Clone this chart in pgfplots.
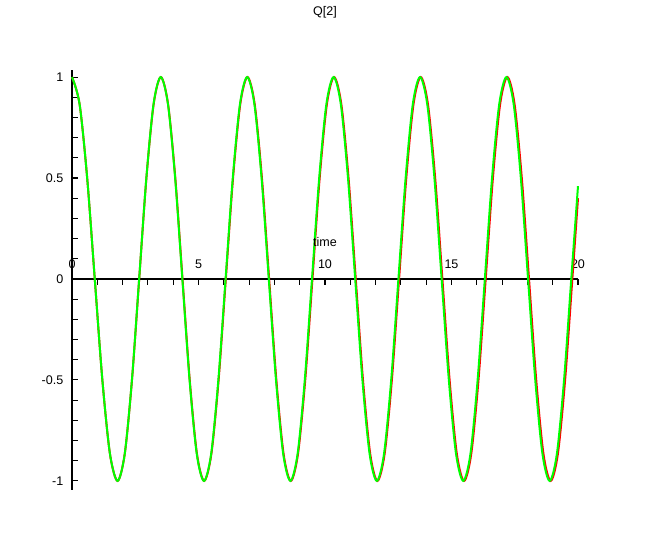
\documentclass[border=0pt]{standalone}
\usepackage{fontspec}
\setmainfont{Liberation Sans}
\usepackage{pgfplots}
\pgfplotsset{compat=1.18}
\usetikzlibrary{calc}

\begin{document}
\begin{tikzpicture}
\begin{axis}[
  name=ax,
  scale only axis,
  width=379.5pt, height=315pt,
  xmin=0, xmax=20, ymin=-1.045, ymax=1.035,
  axis lines=middle,
  axis line style={-, line width=1pt},
  clip=false,
  font=\fontsize{9.4}{11}\selectfont,
  xtick={0,5,10,15,20},
  xticklabels={0,5,10,15,20},
  minor xtick={1,2,3,4,6,7,8,9,11,12,13,14,16,17,18,19},
  ytick={-1,-0.5,0,0.5,1},
  yticklabels={-1,-0.5,0,0.5,1},
  minor ytick={-0.9,-0.8,-0.7,-0.6,-0.4,-0.3,-0.2,-0.1,0.1,0.2,0.3,0.4,0.6,0.7,0.8,0.9},
  hide obscured x ticks=false,
  hide obscured y ticks=false,
  tick align=inside,
  major tick length=4.5pt, minor tick length=4.5pt,
  every tick/.style={black, line width=0.8pt},
  every minor x tick/.append style={yshift=-4.5pt},
  every major x tick/.append style={yshift=-4.5pt},
  xticklabel style={anchor=south, yshift=4pt},
  yticklabel style={anchor=east, xshift=-3pt},
]
\addplot[red, line width=1.5pt, smooth] coordinates {
(0,1) (0.3,0.866) (0.6,0.5) (0.9,0) (1.2,-0.5) (1.5,-0.866) (1.8,-1)
(2.085,-0.866) (2.371,-0.5) (2.656,0) (2.941,0.5) (3.227,0.866) (3.512,1)
(3.797,0.866) (4.083,0.5) (4.368,0) (4.653,-0.5) (4.939,-0.866) (5.224,-1)
(5.509,-0.866) (5.795,-0.5) (6.080,0) (6.365,0.5) (6.651,0.866) (6.936,1)
(7.221,0.866) (7.507,0.5) (7.792,0) (8.077,-0.5) (8.363,-0.866) (8.648,-1)
(8.933,-0.866) (9.219,-0.5) (9.504,0) (9.789,0.5) (10.075,0.866) (10.360,1)
(10.645,0.866) (10.931,0.5) (11.216,0) (11.501,-0.5) (11.787,-0.866) (12.072,-1)
(12.357,-0.866) (12.643,-0.5) (12.928,0) (13.213,0.5) (13.499,0.866) (13.784,1)
(14.069,0.866) (14.355,0.5) (14.640,0) (14.925,-0.5) (15.211,-0.866) (15.496,-1)
(15.781,-0.866) (16.067,-0.5) (16.352,0) (16.637,0.5) (16.923,0.866) (17.208,1)
(17.493,0.866) (17.779,0.5) (18.064,0) (18.349,-0.5) (18.635,-0.866) (18.920,-1)
(19.205,-0.866) (19.491,-0.5) (19.776,0) (20,0.40)
};
\addplot[green, line width=1.5pt, smooth] coordinates {
(0,1) (0.3,0.866) (0.6,0.5) (0.9,0) (1.2,-0.5) (1.5,-0.866) (1.8,-1)
(2.085,-0.866) (2.369,-0.5) (2.654,0) (2.939,0.5) (3.223,0.866) (3.508,1)
(3.793,0.866) (4.077,0.5) (4.362,0) (4.647,-0.5) (4.931,-0.866) (5.216,-1)
(5.501,-0.866) (5.785,-0.5) (6.070,0) (6.355,0.5) (6.639,0.866) (6.924,1)
(7.209,0.866) (7.493,0.5) (7.778,0) (8.063,-0.5) (8.347,-0.866) (8.632,-1)
(8.917,-0.866) (9.201,-0.5) (9.486,0) (9.771,0.5) (10.055,0.866) (10.340,1)
(10.625,0.866) (10.909,0.5) (11.194,0) (11.479,-0.5) (11.763,-0.866) (12.048,-1)
(12.333,-0.866) (12.617,-0.5) (12.902,0) (13.187,0.5) (13.471,0.866) (13.756,1)
(14.041,0.866) (14.325,0.5) (14.610,0) (14.895,-0.5) (15.179,-0.866) (15.464,-1)
(15.749,-0.866) (16.033,-0.5) (16.318,0) (16.603,0.5) (16.887,0.866) (17.172,1)
(17.457,0.866) (17.741,0.5) (18.026,0) (18.311,-0.5) (18.595,-0.866) (18.880,-1)
(19.165,-0.866) (19.449,-0.5) (19.734,0) (20,0.46)
};
\node[anchor=base, font=\fontsize{9.4}{11}\selectfont] at (axis cs:10,0) [yshift=24pt] {time};
\node[anchor=base, font=\fontsize{9.4}{11}\selectfont] at (rel axis cs:0.5,1) [yshift=41pt] {Q[2]};
\end{axis}
\path ($(ax.south west)+(-54pt,-41.25pt)$) rectangle ($(ax.north east)+(57pt,52.5pt)$);
\end{tikzpicture}
\end{document}
